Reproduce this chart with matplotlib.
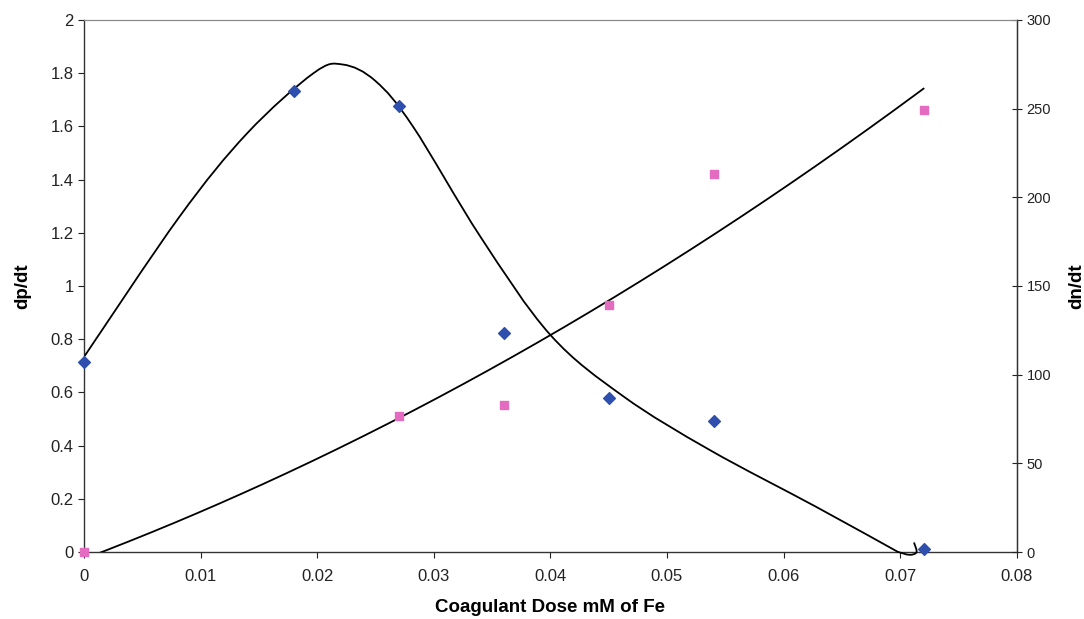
import numpy as np
import matplotlib
matplotlib.use("Agg")
import matplotlib.pyplot as plt
from matplotlib.path import Path
from matplotlib.patches import PathPatch

plt.rcParams['font.family'] = ['Liberation Sans', 'DejaVu Sans']

# Data
dose_dp = [0.0, 0.018, 0.027, 0.036, 0.045, 0.054, 0.072]
dp_dt = [0.714, 1.731, 1.677, 0.822, 0.578, 0.494, 0.01]

dose_dn = [0.0, 0.027, 0.036, 0.045, 0.054, 0.072]
dn_dt = [0.0, 77, 83, 139, 213, 249]

trend_dp_x = [0.0001, 0.0082, 0.0140, 0.0197, 0.0222, 0.0250, 0.0282,
              0.0340, 0.0400, 0.0463, 0.0537, 0.0628, 0.0698]
trend_dp_y = [0.74, 1.261, 1.574, 1.80, 1.832, 1.77, 1.60,
              1.185, 0.816, 0.584, 0.383, 0.170, 0.001]
# small hook at the end of the trendline
hook_x = [0.0698, 0.0708, 0.0714, 0.0712]
hook_y = [0.001, -0.010, 0.0, 0.034]

x_ticks = [0, 0.01, 0.02, 0.03, 0.04, 0.05, 0.06, 0.07, 0.08]
left_ticks = [0, 0.2, 0.4, 0.6, 0.8, 1.0, 1.2, 1.4, 1.6, 1.8, 2.0]
right_ticks = [0, 50, 100, 150, 200, 250, 300]

fig = plt.figure(figsize=(10.84, 6.19), dpi=100)
ax = fig.add_axes([0.0775, 0.108, 0.8605, 0.860])
ax2 = ax.twinx()


def smooth_path(xs, ys):
    """Bezier path through the points (Catmull-Rom style handles)."""
    p = np.column_stack([xs, ys]).astype(float)
    verts = [p[0]]
    codes = [Path.MOVETO]
    n = len(p)
    for i in range(n - 1):
        p0 = p[i - 1] if i > 0 else p[i]
        p1 = p[i]
        p2 = p[i + 1]
        p3 = p[i + 2] if i + 2 < n else p[i + 1]
        c1 = p1 + (p2 - p0) / 6.0
        c2 = p2 - (p3 - p1) / 6.0
        verts += [c1, c2, p2]
        codes += [Path.CURVE4] * 3
    return Path(verts, codes)


for px_, py_ in ((trend_dp_x, trend_dp_y), (hook_x, hook_y)):
    patch = PathPatch(smooth_path(px_, py_), facecolor='none',
                      edgecolor='black', lw=1.3, zorder=3, clip_on=False,
                      joinstyle='round', capstyle='round')
    ax.add_patch(patch)

# dn/dt polynomial (order 2) trendline
xs = np.linspace(0.0, 0.072, 300)
p_dn = np.polyfit(dose_dn, dn_dt, 2)
ydn = np.polyval(p_dn, xs)
ax2.plot(xs, ydn, color='black', lw=1.3, zorder=3)

ax.scatter(dose_dp, dp_dt, marker='D', s=36, color='#2f4fae', zorder=4, clip_on=False)
ax2.scatter(dose_dn, dn_dt, marker='s', s=32, color='#e46cc0', zorder=4, clip_on=False)

ax.set_xlim(0, 0.08)
ax.set_ylim(0, 2)
ax2.set_ylim(0, 300)
ax.set_xticks(x_ticks)
ax.set_xticklabels(['0', '0.01', '0.02', '0.03', '0.04', '0.05', '0.06', '0.07', '0.08'])
ax.set_yticks(left_ticks)
ax.set_yticklabels(['0', '0.2', '0.4', '0.6', '0.8', '1', '1.2', '1.4', '1.6', '1.8', '2'])
ax2.set_yticks(right_ticks)

ax.tick_params(axis='both', labelsize=12, direction='out', length=4, width=0.8, colors='#222222')
ax.tick_params(axis='x', pad=8)
ax2.tick_params(axis='y', labelsize=10.5, direction='inout', length=7, width=0.8, colors='#222222')

for s in ['left', 'bottom']:
    ax.spines[s].set_color('#333333')
    ax.spines[s].set_linewidth(1.0)
ax2.spines['right'].set_color('#333333')
ax2.spines['right'].set_linewidth(1.0)
for a in (ax, ax2):
    a.spines['top'].set_color('#888888')
    a.spines['top'].set_linestyle((0, (2, 1)))
    a.spines['top'].set_linewidth(0.8)
ax2.spines['left'].set_visible(False)
ax2.spines['bottom'].set_visible(False)

ax.set_xlabel('Coagulant Dose mM of Fe', fontsize=13.5, fontweight='bold', labelpad=11)
ax.set_ylabel('dp/dt', fontsize=13.5, fontweight='bold', labelpad=14)
ax2.set_ylabel('dn/dt', fontsize=13.5, fontweight='bold', labelpad=12)

fig.savefig('out.png', dpi=100)
